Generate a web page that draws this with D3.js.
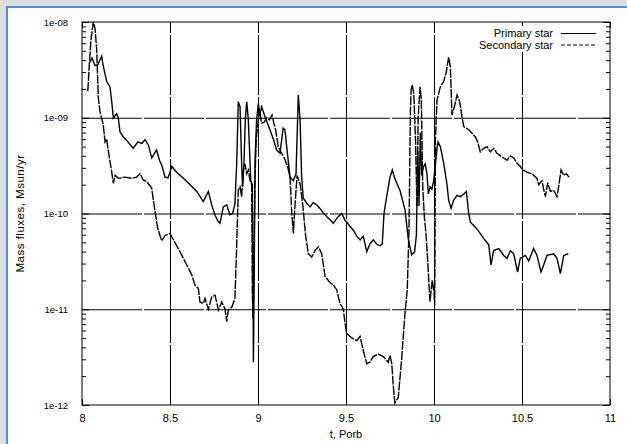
<!DOCTYPE html>
<html>
<head>
<meta charset="utf-8">
<script src="https://d3js.org/d3.v7.min.js"></script>
<style>
    html, body { margin: 0; padding: 0; background: #fff; }
    svg { display: block; font-family: "Liberation Sans", Arial, Helvetica, sans-serif; }
</style>
</head>
<body>
<div id="chart"></div>
<script>
// Mass fluxes of the two stars vs time (orbital periods)
const primaryT = [8.045, 8.057, 8.074, 8.09, 8.112, 8.119, 8.14, 8.159, 8.169, 8.178, 8.188, 8.197, 8.206, 8.216,
    8.235, 8.261, 8.29, 8.318, 8.34, 8.358, 8.377, 8.396, 8.41, 8.424, 8.44, 8.453, 8.472, 8.489, 8.51, 8.538,
    8.576, 8.614, 8.652, 8.689, 8.718, 8.737, 8.756, 8.773, 8.784, 8.803, 8.822, 8.84, 8.856, 8.869, 8.879, 8.888,
    8.898, 8.907, 8.913, 8.92, 8.928, 8.936, 8.945, 8.959, 8.968, 8.974, 8.979, 8.983, 8.992, 9.002, 9.011, 9.021,
    9.04, 9.068, 9.087, 9.106, 9.125, 9.143, 9.153, 9.163, 9.182, 9.201, 9.216, 9.229, 9.239, 9.248, 9.257, 9.277,
    9.295, 9.314, 9.333, 9.352, 9.37, 9.39, 9.41, 9.428, 9.445, 9.457, 9.476, 9.494, 9.51, 9.523, 9.542, 9.561,
    9.58, 9.598, 9.618, 9.636, 9.655, 9.674, 9.693, 9.706, 9.716, 9.731, 9.75, 9.763, 9.778, 9.797, 9.807, 9.82,
    9.835, 9.854, 9.873, 9.89, 9.9, 9.908, 9.915, 9.922, 9.93, 9.941, 9.95, 9.96, 9.968, 9.978, 9.988, 9.998,
    10.01, 10.018, 10.023, 10.036, 10.055, 10.074, 10.083, 10.097, 10.112, 10.131, 10.15, 10.169, 10.184, 10.197,
    10.207, 10.244, 10.282, 10.311, 10.324, 10.339, 10.368, 10.396, 10.415, 10.434, 10.453, 10.475, 10.49, 10.519,
    10.538, 10.566, 10.585, 10.608, 10.623, 10.642, 10.68, 10.699, 10.718, 10.737, 10.763];
const primaryFlux = [3.8e-9, 4.2e-9, 3.5e-9, 3.6e-9, 4.4e-9, 3.6e-9, 2.4e-9, 2.1e-9, 1.47e-9, 9.9e-10, 1.05e-9, 1.1e-9, 1.0e-9, 7.1e-10,
    6.3e-10, 5.6e-10, 4.8e-10, 5.6e-10, 5.4e-10, 5.9e-10, 5.2e-10, 3.8e-10, 4.2e-10, 4.6e-10, 3.6e-10, 3.2e-10, 2.4e-10, 2.35e-10, 3.1e-10, 2.7e-10,
    2.33e-10, 2.0e-10, 1.7e-10, 1.33e-10, 1.7e-10, 1.23e-10, 9.6e-11, 8.3e-11, 7.9e-11, 1.17e-10, 1.23e-10, 9.7e-11, 1.0e-10, 1.27e-10, 3.35e-10, 1.47e-9,
    1.3e-9, 3.3e-10, 1.9e-10, 3.3e-10, 9.5e-10, 1.47e-9, 9.5e-10, 2.2e-10, 2.0e-10, 2.8e-12, 3e-11, 3.5e-10, 9.5e-10, 1.4e-9, 1.1e-9, 1.3e-9,
    1.02e-9, 7.5e-10, 6.0e-10, 4.6e-10, 4.25e-10, 7.8e-10, 7.5e-10, 5.0e-10, 2.4e-10, 2.2e-10, 2.6e-10, 1.73e-9, 9.5e-10, 2.4e-10, 1.45e-10, 1.28e-10,
    1.17e-10, 1.3e-10, 1.23e-10, 1.13e-10, 1.02e-10, 9.3e-11, 8.6e-11, 7.9e-11, 8.8e-11, 9.3e-11, 1.0e-10, 8.5e-11, 7.9e-11, 7.3e-11, 6.7e-11, 5.8e-11,
    5.3e-11, 5.8e-11, 4.0e-11, 4.8e-11, 5.3e-11, 4.8e-11, 4.6e-11, 4.8e-11, 1.0e-10, 1.5e-10, 2.4e-10, 2.85e-10, 2.3e-10, 1.9e-10, 1.74e-10, 1.4e-10,
    1.1e-10, 5.4e-11, 3.7e-11, 4.0e-11, 6e-11, 4.5e-10, 1.2e-10, 7e-10, 2.5e-10, 3.1e-10, 3.3e-10, 2.6e-10, 1.6e-10, 1.9e-10, 1.8e-10, 2.2e-10,
    3.5e-10, 5e-10, 5.6e-10, 5.0e-10, 3.35e-10, 2.0e-10, 1.38e-10, 1.13e-10, 1.38e-10, 1.55e-10, 1.5e-10, 1.6e-10, 1.7e-10, 1.0e-10,
    8.1e-11, 6.9e-11, 5.5e-11, 4.7e-11, 2.9e-11, 4.1e-11, 4.3e-11, 3.65e-11, 3.4e-11, 4.1e-11, 3.8e-11, 2.45e-11, 3.4e-11, 3.65e-11,
    3.2e-11, 4.3e-11, 3.65e-11, 2.45e-11, 2.9e-11, 3.65e-11, 3.8e-11, 3.4e-11, 2.35e-11, 3.65e-11, 3.8e-11];

const secondaryT = [8.033, 8.043, 8.051, 8.064, 8.074, 8.083, 8.093, 8.102, 8.121, 8.131, 8.14, 8.149, 8.159, 8.169,
    8.178, 8.188, 8.206, 8.244, 8.282, 8.31, 8.33, 8.348, 8.368, 8.396, 8.415, 8.43, 8.443, 8.453, 8.472, 8.5,
    8.515, 8.547, 8.566, 8.595, 8.623, 8.642, 8.661, 8.67, 8.689, 8.699, 8.718, 8.737, 8.756, 8.775, 8.794, 8.813,
    8.822, 8.831, 8.851, 8.869, 8.879, 8.888, 8.898, 8.907, 8.917, 8.926, 8.936, 8.945, 8.955, 8.964, 8.968, 8.972,
    8.977, 8.982, 8.99, 9.0, 9.01, 9.02, 9.035, 9.05, 9.065, 9.08, 9.09, 9.1, 9.115, 9.13, 9.15, 9.17,
    9.182, 9.192, 9.201, 9.21, 9.222, 9.24, 9.255, 9.27, 9.286, 9.305, 9.324, 9.343, 9.362, 9.381, 9.409, 9.428,
    9.447, 9.466, 9.485, 9.494, 9.504, 9.523, 9.542, 9.561, 9.58, 9.598, 9.618, 9.636, 9.655, 9.684, 9.712, 9.74,
    9.75, 9.76, 9.769, 9.778, 9.797, 9.816, 9.835, 9.848, 9.858, 9.866, 9.87, 9.876, 9.885, 9.895, 9.903, 9.91,
    9.921, 9.928, 9.936, 9.945, 9.955, 9.965, 9.977, 9.99, 10.0, 10.004, 10.008, 10.017, 10.036, 10.055, 10.07, 10.083,
    10.093, 10.102, 10.116, 10.131, 10.146, 10.159, 10.169, 10.197, 10.216, 10.235, 10.248, 10.263, 10.282, 10.301, 10.32, 10.339,
    10.358, 10.377, 10.396, 10.415, 10.434, 10.453, 10.472, 10.49, 10.506, 10.528, 10.557, 10.585, 10.595, 10.614, 10.623, 10.633,
    10.646, 10.661, 10.68, 10.699, 10.708, 10.722, 10.737, 10.752, 10.767];
const secondaryFlux = [1.9e-9, 4.0e-9, 6.5e-9, 1.0e-8, 8.6e-9, 5.3e-9, 1.6e-9, 1.16e-9, 8.4e-10, 5.6e-10, 6.0e-10, 4.6e-10, 3.5e-10, 2.7e-10,
    2.07e-10, 2.5e-10, 2.33e-10, 2.4e-10, 2.33e-10, 2.4e-10, 2.6e-10, 2.24e-10, 2.15e-10, 1.84e-10, 1.05e-10, 7e-11, 5.9e-11, 5.2e-11, 5.9e-11, 6.2e-11,
    5.5e-11, 4.3e-11, 3.7e-11, 2.9e-11, 2.3e-11, 1.78e-11, 1.65e-11, 1.19e-11, 1.15e-11, 1.3e-11, 1.0e-11, 1.34e-11, 1.4e-11, 9.8e-12, 1.19e-11, 1.0e-11,
    7.4e-12, 9.8e-12, 1.05e-11, 1.3e-11, 4.7e-11, 1.76e-10, 1.9e-10, 1.5e-10, 2.85e-10, 3.3e-10, 2.6e-10, 2.85e-10, 2.2e-10, 2.0e-10, 1.5e-11, 8e-12,
    3e-11, 2e-10, 6e-10, 9e-10, 1.2e-9, 8.75e-10, 9e-10, 1.0e-9, 9.5e-10, 1.07e-9, 8.75e-10, 7.5e-10, 5.0e-10, 4.4e-10, 3.8e-10, 3.0e-10,
    2.4e-10, 1.0e-10, 6.2e-11, 1.2e-10, 2.5e-10, 2.0e-10, 1.2e-10, 6e-11, 3.8e-11, 3.5e-11, 4.1e-11, 4.5e-11, 3.8e-11, 2.2e-11, 1.9e-11, 1.8e-11,
    1.6e-11, 1.15e-11, 1.0e-11, 7.2e-12, 5.6e-12, 5.2e-12, 4.9e-12, 4.7e-12, 5.2e-12, 3.7e-12, 2.7e-12, 2.8e-12, 3.2e-12, 3.4e-12, 3.2e-12, 2.8e-12,
    3.3e-12, 2.7e-12, 1.55e-12, 1.05e-12, 1.2e-12, 3.0e-12, 9.0e-12, 1.6e-11, 6.7e-11, 1.2e-9, 1.95e-9, 2.2e-9, 1.8e-9, 5.9e-10, 1.18e-10, 1.03e-9,
    2.1e-9, 1.53e-9, 1.9e-10, 9.3e-11, 6e-11, 3e-11, 1.2e-11, 2e-11, 1.5e-11, 1.1e-11, 5.9e-10, 1.53e-9, 2.1e-9, 2.4e-9, 3.0e-9, 4.3e-9,
    3.4e-9, 1.07e-9, 1.3e-9, 1.73e-9, 1.47e-9, 1.02e-9, 8.1e-10, 7.5e-10, 6.9e-10, 6.3e-10, 5.6e-10, 4.4e-10, 4.8e-10, 5.0e-10, 4.4e-10, 4.8e-10,
    4.25e-10, 4.0e-10, 3.8e-10, 3.6e-10, 4.0e-10, 3.8e-10, 3.35e-10, 3.1e-10, 2.85e-10, 2.7e-10, 2.6e-10, 2.33e-10, 2.0e-10, 2.2e-10, 1.8e-10, 1.5e-10,
    2.1e-10, 1.7e-10, 1.75e-10, 1.5e-10, 1.9e-10, 2.85e-10, 2.5e-10, 2.6e-10, 2.4e-10];

const xTicks = [8, 8.5, 9, 9.5, 10, 10.5, 11];
const xTickLabels = ["8", "8.5", "9", "9.5", "10", "10.5", "11"];
const yTicks = [1e-12, 1e-11, 1e-10, 1e-9, 1e-8];
const yTickLabels = ["1e-12", "1e-11", "1e-10", "1e-09", "1e-08"];
const seriesNames = ["Primary star", "Secondary star"];

const W = 627, H = 444;
const margin = { top: 22, right: 17, bottom: 39, left: 82 };
const width = W - margin.left - margin.right;
const height = H - margin.top - margin.bottom;

const svg = d3.select("#chart").append("svg")
    .attr("width", W)
    .attr("height", H);

// window frame: grey strip with a blue edge, white page
svg.append("rect").attr("width", W).attr("height", H).attr("fill", "#dedede");
svg.append("rect").attr("x", 6).attr("y", 6).attr("width", W).attr("height", H).attr("fill", "#4c8cf2");
svg.append("rect").attr("x", 8).attr("y", 8).attr("width", W).attr("height", H).attr("fill", "#fff");

const g = svg.append("g").attr("transform", `translate(${margin.left},${margin.top})`);

const x = d3.scaleLinear().domain([8, 11]).range([0, width]);
const y = d3.scaleLog().domain([1e-12, 1e-8]).range([height, 0]);

// minor log ticks 2..9 in every decade
const minorTicks = [];
yTicks.slice(0, -1).forEach(d => {
    for (let k = 2; k <= 9; k++) minorTicks.push(d * k);
});

// grid
g.append("g")
    .attr("class", "grid")
    .attr("transform", `translate(0,${height})`)
    .call(d3.axisBottom(x).tickValues(xTicks.slice(1, -1)).tickSize(-height).tickFormat(""));
g.append("g")
    .attr("class", "grid")
    .call(d3.axisLeft(y).tickValues(yTicks.slice(1, -1)).tickSize(-width).tickFormat(""));
g.selectAll(".grid .domain").remove();
g.selectAll(".grid line")
    .attr("stroke", "#000")
    .attr("stroke-width", 1)
    .attr("stroke-dasharray", "60,2");

// axes
const xAxis = g.append("g")
    .attr("transform", `translate(0,${height})`)
    .call(d3.axisBottom(x).tickValues(xTicks).tickSize(-6).tickPadding(9)
        .tickFormat((d, i) => xTickLabels[i]));
const yAxis = g.append("g")
    .call(d3.axisLeft(y).tickValues(yTicks).tickSize(-7).tickPadding(14)
        .tickFormat((d, i) => yTickLabels[i]));
g.append("g")
    .attr("transform", `translate(${width},0)`)
    .call(d3.axisRight(y).tickValues(yTicks).tickSize(-7).tickFormat(""));
g.append("g")
    .call(d3.axisLeft(y).tickValues(minorTicks).tickSize(-4).tickFormat(""));
g.append("g")
    .attr("transform", `translate(${width},0)`)
    .call(d3.axisRight(y).tickValues(minorTicks).tickSize(-4).tickFormat(""));
g.append("g")
    .call(d3.axisTop(x).tickValues(xTicks).tickSize(-6).tickFormat(""));

g.selectAll(".domain").remove();
g.selectAll(".tick line").filter(function () { return !this.closest(".grid"); })
    .attr("stroke", "#000");
xAxis.selectAll("text").attr("font-size", "11px").attr("fill", "#000");
yAxis.selectAll("text").attr("font-size", "9.5px").attr("fill", "#000");

// border
g.append("rect")
    .attr("width", width)
    .attr("height", height)
    .attr("fill", "none")
    .attr("stroke", "#000")
    .attr("stroke-width", 1);

// curves
const line = d3.line()
    .x(d => x(d[0]))
    .y(d => y(d[1]));

const primary = primaryT.map((t, i) => [t, primaryFlux[i]]);
const secondary = secondaryT.map((t, i) => [t, secondaryFlux[i]]);

g.append("path")
    .datum(secondary)
    .attr("d", line)
    .attr("fill", "none")
    .attr("stroke", "#000")
    .attr("stroke-width", 1.4)
    .attr("stroke-dasharray", "9,1.2");

g.append("path")
    .datum(primary)
    .attr("d", line)
    .attr("fill", "none")
    .attr("stroke", "#000")
    .attr("stroke-width", 1.4);

// legend
const legend = g.append("g").attr("transform", `translate(${width - 13},0)`);
legend.append("rect")
    .attr("x", -118).attr("y", 4)
    .attr("width", 114).attr("height", 26)
    .attr("fill", "#fff");
seriesNames.forEach((name, i) => {
    const ly = 11.5 + i * 11.5;
    legend.append("text")
        .attr("x", -44)
        .attr("y", ly)
        .attr("dy", "0.35em")
        .attr("text-anchor", "end")
        .attr("font-size", "11px")
        .attr("fill", "#000")
        .text(name);
    legend.append("line")
        .attr("x1", -36).attr("x2", -1)
        .attr("y1", ly).attr("y2", ly)
        .attr("stroke", "#000")
        .attr("stroke-width", 1.2)
        .attr("stroke-dasharray", i === 1 ? "4,2" : null);
});

// axis titles
svg.append("text")
    .attr("x", margin.left + width / 2)
    .attr("y", 438)
    .attr("text-anchor", "middle")
    .attr("font-size", "11px")
    .text("t, Porb");

svg.append("text")
    .attr("transform", `translate(24,${margin.top + height / 2}) rotate(-90)`)
    .attr("text-anchor", "middle")
    .attr("font-size", "11.5px")
    .attr("letter-spacing", "0.5px")
    .text("Mass fluxes, Msun/yr");
</script>
</body>
</html>
